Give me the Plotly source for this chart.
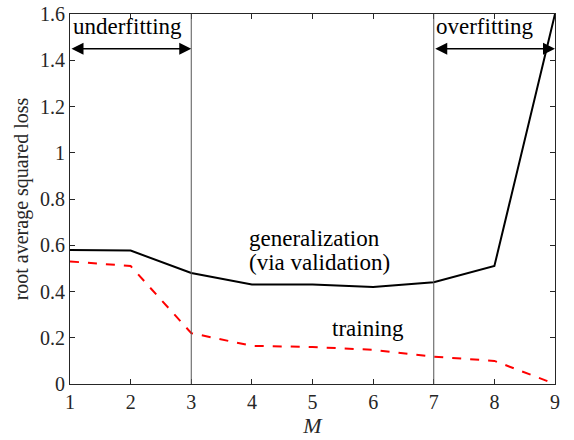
import plotly.graph_objects as go

M = [1, 2, 3, 4, 5, 6, 7, 8, 9]
generalization = [0.58, 0.577, 0.48, 0.43, 0.43, 0.42, 0.44, 0.51, 1.6]
training = [0.53, 0.51, 0.22, 0.165, 0.16, 0.148, 0.118, 0.1, 0.0]
x_ticks = [1, 2, 3, 4, 5, 6, 7, 8, 9]
y_ticks = [0, 0.2, 0.4, 0.6, 0.8, 1, 1.2, 1.4, 1.6]
y_tick_text = ["0", "0.2", "0.4", "0.6", "0.8", "1", "1.2", "1.4", "1.6"]

FONT = "Liberation Serif"
AX = "#262626"

fig = go.Figure()
fig.add_trace(go.Scatter(x=M, y=training, mode="lines",
                         line=dict(color="#ff0000", width=2, dash="dash"), cliponaxis=True))
fig.add_trace(go.Scatter(x=M, y=generalization, mode="lines",
                         line=dict(color="#000000", width=2), cliponaxis=True))

for xv in [3, 7]:
    fig.add_shape(type="line", x0=xv, x1=xv, y0=0, y1=1.6, xref="x", yref="y",
                  line=dict(color="#555555", width=1))

arrow_y = 1.45
for (a, b) in [(1, 3), (7, 9)]:
    fig.add_annotation(x=b, y=arrow_y, ax=a, ay=arrow_y, xref="x", yref="y",
                       axref="x", ayref="y", showarrow=True, arrowhead=2,
                       startarrowhead=2, arrowside="end+start", arrowsize=1.6,
                       startarrowsize=1.6, arrowwidth=1.5, arrowcolor="black", text="")

txt = dict(family=FONT, size=23, color="black")
fig.add_annotation(x=1.95, y=1.545, text="underfitting", showarrow=False, font=txt, xref="x", yref="y")
fig.add_annotation(x=7.85, y=1.545, text="overfitting", showarrow=False, font=txt, xref="x", yref="y")
fig.add_annotation(x=5.04, y=0.63, text="generalization", showarrow=False,
                   font=txt, xref="x", yref="y")
fig.add_annotation(x=5.12, y=0.527, text="(via validation)", showarrow=False,
                   font=txt, xref="x", yref="y")
fig.add_annotation(x=5.92, y=0.242, text="training", showarrow=False, font=txt, xref="x", yref="y")

axis_common = dict(showline=True, linecolor=AX, linewidth=1, mirror="ticks",
                   ticks="inside", ticklen=5, tickcolor=AX, showgrid=False,
                   zeroline=False, ticklabeloverflow="allow", automargin=False,
                   tickfont=dict(family=FONT, size=20, color=AX))

fig.update_xaxes(range=[1, 9], tickvals=x_ticks, title=dict(text="<i>M</i>",
                 font=dict(family=FONT, size=22, color=AX), standoff=0), **axis_common)
fig.update_yaxes(range=[0, 1.6], tickvals=y_ticks, ticktext=y_tick_text,
                 title=dict(text="root average squared loss",
                            font=dict(family=FONT, size=20, color=AX), standoff=6),
                 **axis_common)

fig.update_layout(width=574, height=440, margin=dict(l=70, r=19, t=14, b=56),
                  font=dict(family=FONT),
                  plot_bgcolor="white", paper_bgcolor="white", showlegend=False)

fig.write_html("out.html", config={"displayModeBar": False},
               post_script="document.body.style.margin='0px';")
